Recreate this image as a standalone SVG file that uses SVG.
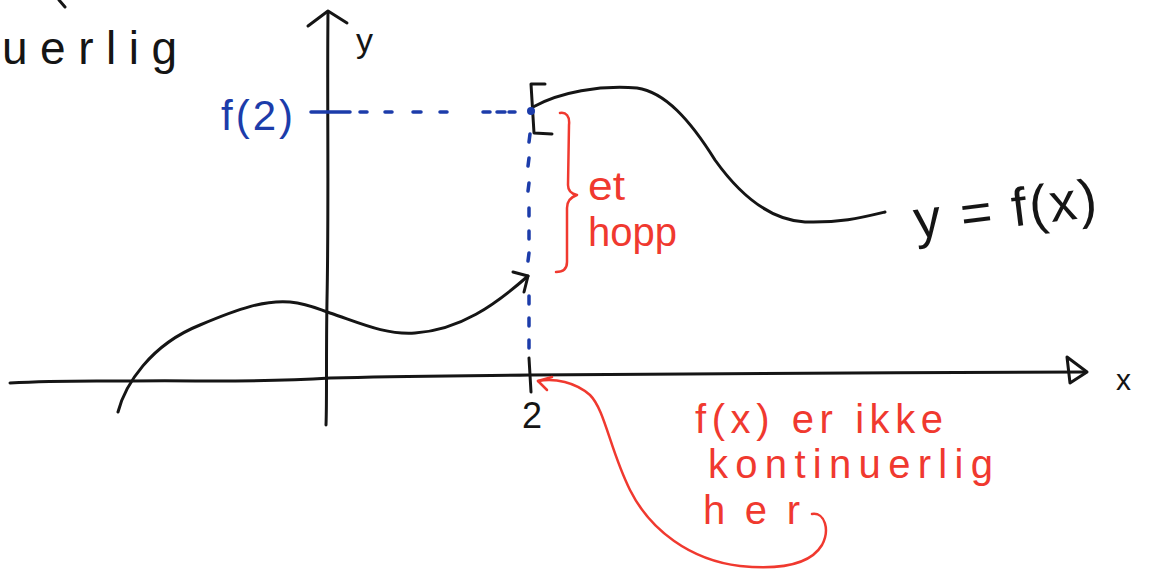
<svg xmlns="http://www.w3.org/2000/svg" width="1155" height="571" viewBox="0 0 1155 571">
<defs>
<style>
.ink{fill:none;stroke:#151515;stroke-width:3;stroke-linecap:round;stroke-linejoin:round}
.blue{fill:none;stroke:#1c3caa;stroke-width:3.5;stroke-linecap:round}
.red{fill:none;stroke:#f0392f;stroke-width:2.5;stroke-linecap:round;stroke-linejoin:round}
.tk{font-family:"Liberation Sans","DejaVu Sans",sans-serif;fill:#151515}
.tb{font-family:"Liberation Sans","DejaVu Sans",sans-serif;fill:#1c3caa}
.tr{font-family:"Liberation Sans","DejaVu Sans",sans-serif;fill:#f0392f}
</style>
</defs>
<rect width="1155" height="571" fill="#ffffff"/>

<g id="heading">
<path class="ink" d="M59,0 L65,7"/>
<text class="tk" x="2" y="64" font-size="46" textLength="175" lengthAdjust="spacing">uerlig</text>
</g>

<g id="axes">
<path class="ink" d="M10,383 C60,380 100,381 130,381 C200,380 250,383 330,378 C400,376 450,376 530,375 C700,373 900,373 1085,372"/>
<path class="ink" d="M1067,357 L1087,372 L1070,383 Z" fill="#ffffff"/>
<path class="ink" d="M328,12 C327,100 329,200 327,300 C326,360 327,400 326,425"/>
<path class="ink" d="M308,26 L328,11 L347,23"/>
<path class="ink" d="M529,358 L531,392"/>
<text class="tk" x="356" y="52" font-size="34">y</text>
<text class="tk" x="1116" y="390" font-size="30">x</text>
<text class="tk" x="522" y="428" font-size="36">2</text>
</g>

<g id="curve-left">
<path class="ink" d="M118,412 C125,385 150,345 200,325 C240,308 265,300 290,302 C310,304 320,310 330,313 C360,323 385,335 415,333 C460,330 495,305 528,276"/>
<path class="ink" d="M513,272 L528,276 L524,292"/>
</g>

<g id="curve-right">
<path class="ink" stroke-width="4" d="M545,84 L531,84 L534,133 L552,134"/>
<path class="ink" d="M533,107 C560,92 600,85 637,88 C665,92 690,120 715,160 C740,195 770,220 805,222 C840,223 860,218 885,212"/>
<text class="tk" x="912" y="228" font-size="54" textLength="184" lengthAdjust="spacing" transform="rotate(-7 1000 200)">y = f(x)</text>
</g>

<g id="f2-label">
<text class="tb" x="221" y="130" font-size="42" textLength="72" lengthAdjust="spacing">f(2)</text>
</g>

<g id="connectors">
<g id="guide-horizontal">
<path class="blue" d="M311,112 L350,112 M360,112 L367,112 M385,112 L392,112 M413,112 L421,112 M440,112 L447,112 M483,112 L490,112 M497,112 L505,112 M509,112 L515,112"/>
<circle cx="531" cy="111" r="4" fill="#1c3caa"/>
</g>
<g id="guide-vertical">
<path class="blue" d="M530,134 L529,142 M529,158 L528,166 M529,183 L528,191 M529,208 L529,216 M529,231 L529,239 M529,253 L528,261 M529,296 L529,304 M529,318 L529,326 M529,340 L529,348"/>
</g>
<g id="jump-brace">
<path class="red" d="M560,113 C566,112 570,116 569,125 L568,185 C568,191 572,194 577,195 C571,197 567,201 567,208 L567,262 C567,269 563,272 556,272"/>
<text class="tr" x="588" y="200" font-size="40" textLength="37" lengthAdjust="spacingAndGlyphs">et</text>
<text class="tr" x="588" y="246" font-size="40" textLength="89" lengthAdjust="spacing">hopp</text>
</g>
<g id="note-arrow">
<path class="red" d="M812,514 C825,512 830,530 822,545 C810,565 780,570 740,566 C690,560 650,530 630,490 C610,450 605,410 590,395 C575,382 555,378 538,381"/>
<path class="red" d="M552,377 L538,381 L547,390"/>
</g>
</g>

<g id="note">
<text class="tr" x="695" y="433" font-size="40" textLength="248" lengthAdjust="spacing">f(x) er ikke</text>
<text class="tr" x="708" y="478" font-size="40" textLength="285" lengthAdjust="spacing">kontinuerlig</text>
<text class="tr" x="703" y="524" font-size="40" textLength="97" lengthAdjust="spacing">her</text>
</g>
</svg>
